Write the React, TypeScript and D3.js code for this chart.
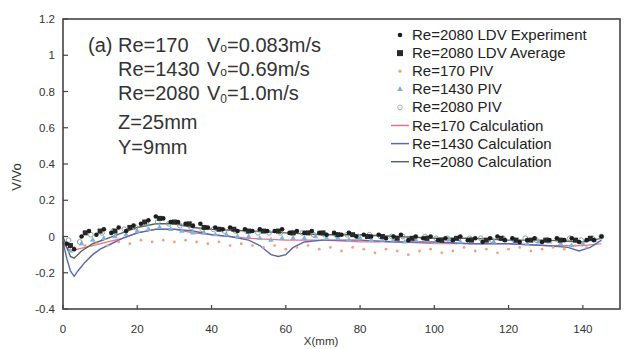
import React from "react";
import * as d3 from "d3";

// ---- data ----
const ldvExpX = [1,3,5,7,9,11,13,15,17,19,21,23,25,27,29,31,33,35,37,39,41,43,45,47,49,51,53,55,57,59,61,63,65,67,69,71,73,75,77,79,81,83,85,87,89,91,93,95,97,99,101,103,105,107,109,111,113,115,117,119,121,123,125,127,129,131,133,135,137,139,141,143,145];
const ldvExpV = [-0.04,-0.07,0.0,0.03,0.01,0.04,0.02,0.05,0.03,0.06,0.07,0.09,0.11,0.1,0.08,0.08,0.07,0.06,0.07,0.05,0.05,0.04,0.05,0.03,0.04,0.03,0.04,0.03,0.03,0.04,0.02,0.03,0.02,0.03,0.02,0.01,0.02,0.01,0.02,0.0,0.01,0.0,0.01,-0.01,0.0,0.01,-0.02,0.0,-0.01,0.0,-0.02,-0.01,-0.02,0.0,-0.02,-0.01,-0.03,-0.01,0.0,-0.02,-0.01,-0.03,-0.02,-0.01,-0.03,-0.02,-0.01,-0.02,-0.01,-0.03,-0.02,-0.02,0.0];

const ldvAvgX = [2,6,10,14,18,22,26,30,34,38,42,46,50,54,58,62,66,70,74,78,82,86,90,94,98,102,106,110,114,118,122,126,130,134,138,142];
const ldvAvgV = [-0.05,0.02,0.03,0.03,0.05,0.08,0.1,0.08,0.07,0.05,0.04,0.04,0.03,0.03,0.03,0.02,0.02,0.02,0.01,0.01,0.0,0.0,-0.01,-0.01,-0.01,-0.02,-0.01,-0.02,-0.02,-0.01,-0.02,-0.02,-0.02,-0.02,-0.02,-0.01];

const piv170X = [3,6,9,12,15,18,21,24,27,30,33,36,39,42,45,48,51,54,57,60,63,66,69,72,75,78,81,84,87,90,93,96,99,102,105,108,111,114,117,120,123,126,129,132,135,138,141];
const piv170V = [-0.06,-0.05,-0.04,-0.05,-0.03,-0.04,-0.02,-0.03,-0.02,-0.03,-0.02,-0.03,-0.04,-0.03,-0.05,-0.04,-0.05,-0.06,-0.05,-0.07,-0.06,-0.05,-0.07,-0.06,-0.08,-0.06,-0.07,-0.09,-0.07,-0.08,-0.1,-0.08,-0.07,-0.09,-0.08,-0.06,-0.08,-0.07,-0.09,-0.07,-0.06,-0.08,-0.07,-0.06,-0.07,-0.05,-0.06];

const piv1430X = [2,5,8,11,14,17,20,23,26,29,32,35,38,41,44,47,50,53,56,59,62,65,68,71,74,77,80,83,86,89,92,95,98,101,104,107,110,113,116,119,122,125,128,131,134,137,140,143];
const piv1430V = [-0.08,-0.04,-0.02,-0.01,0.0,0.01,0.03,0.04,0.05,0.04,0.03,0.02,0.02,0.01,0.01,0.0,0.0,-0.01,-0.02,-0.01,-0.01,-0.01,0.0,-0.01,-0.01,-0.02,-0.01,-0.02,-0.02,-0.02,-0.03,-0.02,-0.02,-0.03,-0.02,-0.03,-0.02,-0.03,-0.03,-0.02,-0.03,-0.04,-0.03,-0.03,-0.04,-0.05,-0.04,-0.02];

const piv2080X = [1.5,4.5,7.5,10.5,13.5,16.5,19.5,22.5,25.5,28.5,31.5,34.5,37.5,40.5,43.5,46.5,49.5,52.5,55.5,58.5,61.5,64.5,67.5,70.5,73.5,76.5,79.5,82.5,85.5,88.5,91.5,94.5,97.5,100.5,103.5,106.5,109.5,112.5,115.5,118.5,121.5,124.5,127.5,130.5,133.5,136.5,139.5,142.5,145];
const piv2080V = [-0.02,-0.03,0.01,0.02,0.03,0.04,0.05,0.07,0.08,0.07,0.06,0.05,0.04,0.04,0.03,0.03,0.03,0.02,0.02,0.02,0.02,0.02,0.01,0.01,0.01,0.01,0.0,0.01,0.0,0.0,0.0,-0.01,0.0,-0.01,-0.01,-0.01,-0.01,-0.01,-0.02,-0.01,-0.02,-0.01,-0.02,-0.02,-0.02,-0.01,-0.02,-0.01,0.0];

const calc170X = [0,2,4,8,12,16,20,25,30,35,40,50,60,70,80,90,100,110,120,130,140,145];
const calc170V = [-0.04,-0.08,-0.07,-0.05,-0.03,-0.01,0.02,0.04,0.04,0.02,0.01,-0.01,-0.02,-0.02,-0.03,-0.03,-0.04,-0.04,-0.04,-0.05,-0.05,-0.04];

const calc1430X = [0,1,2,3,4,6,8,10,13,16,20,25,30,35,40,45,50,53,56,58,60,62,65,70,80,90,100,110,120,130,136,139,142,145];
const calc1430V = [-0.03,-0.12,-0.19,-0.22,-0.19,-0.14,-0.1,-0.07,-0.04,-0.01,0.02,0.04,0.04,0.03,0.01,0.0,-0.02,-0.05,-0.1,-0.11,-0.1,-0.06,-0.03,-0.02,-0.02,-0.03,-0.03,-0.04,-0.04,-0.05,-0.06,-0.08,-0.06,-0.02];

const calc2080X = [0,1,2,3,5,8,12,16,20,25,30,35,40,50,60,70,80,90,100,110,120,130,140,145];
const calc2080V = [0.0,-0.06,-0.11,-0.12,-0.08,-0.04,-0.01,0.02,0.05,0.07,0.07,0.05,0.04,0.03,0.02,0.01,0.01,0.0,-0.01,-0.01,-0.02,-0.02,-0.03,-0.01];

const xTicks = [0,20,40,60,80,100,120,140];
const yTicks = [-0.4,-0.2,0,0.2,0.4,0.6,0.8,1,1.2];
const legendLabels = [
  "Re=2080 LDV Experiment",
  "Re=2080 LDV Average",
  "Re=170 PIV",
  "Re=1430 PIV",
  "Re=2080 PIV",
  "Re=170 Calculation",
  "Re=1430 Calculation",
  "Re=2080 Calculation",
];

const FONT = "'Liberation Sans', Arial, sans-serif";
const C170 = "#ee6f86";
const C1430 = "#5a68b0";
const C2080 = "#55655e";

export default function App() {
  const W = 630, H = 349;
  const x = d3.scaleLinear().domain([0, 150]).range([63, 620]);
  const y = d3.scaleLinear().domain([-0.4, 1.2]).range([309, 19]);
  const line = d3.line<[number, number]>().x(d => x(d[0])).y(d => y(d[1]));
  const pts = (xs: number[], vs: number[]) => xs.map((v, i) => [v, vs[i]] as [number, number]);
  const tri = d3.symbol().type(d3.symbolTriangle).size(14)() as string;

  const legY = (i: number) => 35 + i * 18.1;

  return (
    <svg width={W} height={H} style={{ display: "block", position: "absolute", left: 0, top: 0, background: "#fff" }} fontFamily={FONT}>
      <rect x={0} y={0} width={W} height={H} fill="#fff" />
      {/* calculation lines */}
      <path d={line(pts(calc170X, calc170V)) || ""} fill="none" stroke={C170} strokeWidth={1.2} />
      <path d={line(pts(calc1430X, calc1430V)) || ""} fill="none" stroke={C1430} strokeWidth={1.4} />
      <path d={line(pts(calc2080X, calc2080V)) || ""} fill="none" stroke={C2080} strokeWidth={1.4} />
      {/* PIV */}
      {piv170X.map((v, i) => (
        <circle key={"p170" + i} cx={x(v)} cy={y(piv170V[i])} r={1.4} fill="#f3a07c" />
      ))}
      {piv1430X.map((v, i) => (
        <path key={"p1430" + i} d={tri} transform={`translate(${x(v)},${y(piv1430V[i])})`} fill="#7fb4dc" />
      ))}
      {piv2080X.map((v, i) => (
        <circle key={"p2080" + i} cx={x(v)} cy={y(piv2080V[i])} r={2.4} fill="none" stroke="#8fa3a3" strokeWidth={1} />
      ))}
      {/* LDV */}
      {ldvAvgX.map((v, i) => (
        <rect key={"avg" + i} x={x(v) - 2.5} y={y(ldvAvgV[i]) - 2.5} width={5} height={5} fill="#2a2a2a" />
      ))}
      {ldvExpX.map((v, i) => (
        <circle key={"exp" + i} cx={x(v)} cy={y(ldvExpV[i])} r={2.3} fill="#1e1e1e" />
      ))}
      {/* frame */}
      <rect x={63} y={19} width={557} height={290} fill="none" stroke="#444" strokeWidth={1.6} />
      {yTicks.map(t => (
        <g key={"yt" + t}>
          <line x1={63} x2={68} y1={y(t)} y2={y(t)} stroke="#444" strokeWidth={1.2} />
          <text x={55} y={y(t) + 4} textAnchor="end" fontSize={11.5} fill="#333">{String(t)}</text>
        </g>
      ))}
      {xTicks.map(t => (
        <g key={"xt" + t}>
          <line x1={x(t)} x2={x(t)} y1={309} y2={305} stroke="#444" strokeWidth={1.2} />
          <text x={x(t)} y={333} textAnchor="middle" fontSize={11.5} fill="#333">{String(t)}</text>
        </g>
      ))}
      <text x={x(69.5)} y={345} textAnchor="middle" fontSize={11.5} fill="#333">X(mm)</text>
      <text transform="translate(21,177) rotate(-90)" textAnchor="middle" fontSize={13} fill="#333">V/Vo</text>

      {/* annotation */}
      <g fontSize={20} fill="#333">
        <text x={88} y={52}>(a) Re=170</text>
        <text x={207} y={52}>V<tspan fontSize={12}>o</tspan>=0.083m/s</text>
        <text x={118} y={76}>Re=1430</text>
        <text x={207} y={76}>V<tspan fontSize={12}>o</tspan>=0.69m/s</text>
        <text x={118} y={100}>Re=2080</text>
        <text x={207} y={100}>V<tspan fontSize={12} dy={3}>0</tspan><tspan dy={-3}>=1.0m/s</tspan></text>
        <text x={118} y={129}>Z=25mm</text>
        <text x={118} y={154}>Y=9mm</text>
      </g>

      {/* legend */}
      <g>
        <circle cx={400} cy={legY(0)} r={2.3} fill="#1e1e1e" />
        <rect x={397} y={legY(1) - 3} width={6} height={6} fill="#2a2a2a" />
        <circle cx={400} cy={legY(2)} r={1.6} fill="#f3a07c" />
        <path d={tri} transform={`translate(400,${legY(3)})`} fill="#7fb4dc" />
        <circle cx={400} cy={legY(4)} r={2.4} fill="none" stroke="#a8b8b8" strokeWidth={1} />
        <line x1={391} x2={409} y1={legY(5)} y2={legY(5)} stroke={C170} strokeWidth={1.5} />
        <line x1={391} x2={409} y1={legY(6)} y2={legY(6)} stroke={C1430} strokeWidth={1.5} />
        <line x1={391} x2={409} y1={legY(7)} y2={legY(7)} stroke={C2080} strokeWidth={1.5} />
        {legendLabels.map((l, i) => (
          <text key={l} x={412} y={legY(i) + 5} fontSize={15} fill="#222">{l}</text>
        ))}
      </g>
    </svg>
  );
}
